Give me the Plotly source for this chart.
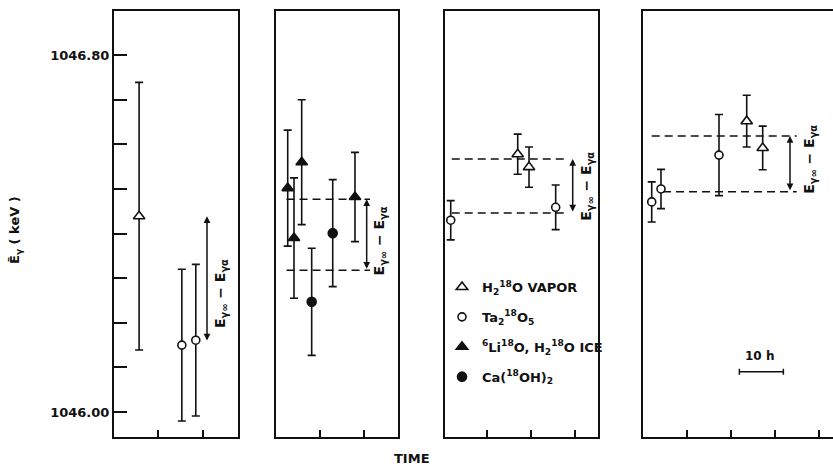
import plotly.graph_objects as go

# ---------------- data: time (h) and mean gamma energy (keV) ----------------
# Panel 1
p1_vapor_t = [5.8]
p1_vapor_e = [1046.439]
p1_vapor_err = [0.30]
p1_ta_t = [15.3, 18.4]
p1_ta_e = [1046.150, 1046.161]
p1_ta_err = [0.17, 0.17]
p1_levels = [1046.439, 1046.157]

# Panel 2
p2_ice_t = [2.66, 4.09, 5.84, 17.95]
p2_ice_e = [1046.502, 1046.390, 1046.560, 1046.482]
p2_ice_err = [0.13, 0.135, 0.14, 0.10]
p2_ca_t = [8.11, 12.89]
p2_ca_e = [1046.247, 1046.401]
p2_ca_err = [0.12, 0.12]
p2_levels = [1046.477, 1046.318]

# Panel 3
p3_vapor_t = [16.98, 19.55]
p3_vapor_e = [1046.578, 1046.549]
p3_vapor_err = [0.045, 0.045]
p3_ta_t = [1.75, 25.61]
p3_ta_e = [1046.430, 1046.459]
p3_ta_err = [0.044, 0.050]
p3_levels = [1046.567, 1046.446]

# Panel 4
p4_ta_t = [1.98, 4.09, 17.27]
p4_ta_e = [1046.471, 1046.500, 1046.576]
p4_ta_err = [0.045, 0.044, 0.091]
p4_vapor_t = [23.57, 27.2]
p4_vapor_e = [1046.652, 1046.592]
p4_vapor_err = [0.058, 0.049]
p4_levels = [1046.619, 1046.494]

legend_labels = [
    "H<sub>2</sub><sup>18</sup>O VAPOR",
    "Ta<sub>2</sub><sup>18</sup>O<sub>5</sub>",
    "<sup>6</sup>Li<sup>18</sup>O, H<sub>2</sub><sup>18</sup>O ICE",
    "Ca(<sup>18</sup>OH)<sub>2</sub>",
]
y_tick_vals = [round(1046.0 + 0.1 * i, 1) for i in range(9)]
y_tick_text = ["1046.00", "", "", "", "", "", "", "", "1046.80"]
x_tick_vals = [10, 20, 30, 40]
scale_bar_hours = 10
diff_label = "E<sub>γ∞</sub> − E<sub>γα</sub>"

# ---------------- styles ----------------
W, H = 833, 466
FONT = "DejaVu Sans"
BLACK = "#111111"
Y_RANGE = [1045.944, 1046.899]
Y_DOM = [1 - 437 / H, 1 - 11 / H]

panels = [
    dict(dom=[114 / W, 238 / W], rng=[0.22, 27.78]),
    dict(dom=[275.7 / W, 397.7 / W], rng=[-0.07, 27.66]),
    dict(dom=[445 / W, 598 / W], rng=[0.45, 35.23]),
    dict(dom=[643 / W, 1.0], rng=[0.0, 43.18]),
]

styles = {
    "vapor": dict(symbol="triangle-up", color="white", size=10, name=legend_labels[0], rank=1),
    "ta": dict(symbol="circle", color="white", size=8, name=legend_labels[1], rank=2),
    "ice": dict(symbol="triangle-up", color=BLACK, size=10, name=legend_labels[2], rank=3),
    "ca": dict(symbol="circle", color=BLACK, size=9, name=legend_labels[3], rank=4),
}

fig = go.Figure()
shown = set()


def add_series(kind, t, e, err, panel):
    s = styles[kind]
    ax = "" if panel == 1 else str(panel)
    fig.add_trace(go.Scatter(
        x=t, y=e, mode="markers",
        xaxis="x" + ax, yaxis="y" + ax,
        name=s["name"], legendgroup=kind, legendrank=s["rank"],
        showlegend=kind not in shown,
        marker=dict(symbol=s["symbol"], size=s["size"], color=s["color"],
                    line=dict(color=BLACK, width=1.6)),
        error_y=dict(type="data", array=err, visible=True, color=BLACK,
                     thickness=1.6, width=4),
        cliponaxis=False,
    ))
    shown.add(kind)


add_series("vapor", p1_vapor_t, p1_vapor_e, p1_vapor_err, 1)
add_series("ta", p1_ta_t, p1_ta_e, p1_ta_err, 1)
add_series("ice", p2_ice_t, p2_ice_e, p2_ice_err, 2)
add_series("ca", p2_ca_t, p2_ca_e, p2_ca_err, 2)
add_series("vapor", p3_vapor_t, p3_vapor_e, p3_vapor_err, 3)
add_series("ta", p3_ta_t, p3_ta_e, p3_ta_err, 3)
add_series("ta", p4_ta_t, p4_ta_e, p4_ta_err, 4)
add_series("vapor", p4_vapor_t, p4_vapor_e, p4_vapor_err, 4)

# 10 h scale bar in panel 4
fig.add_trace(go.Scatter(
    x=[26.9], y=[1046.090], mode="markers", xaxis="x4", yaxis="y4",
    showlegend=False, hoverinfo="skip",
    marker=dict(size=1, color="rgba(0,0,0,0)"),
    error_x=dict(type="data", array=[scale_bar_hours / 2], visible=True,
                 color=BLACK, thickness=1.5, width=3),
))

layout = dict(
    width=W, height=H, autosize=False,
    margin=dict(l=0, r=0, t=0, b=0, pad=0),
    paper_bgcolor="white", plot_bgcolor="white",
    font=dict(family=FONT, color=BLACK, size=13),
    showlegend=True,
    legend=dict(x=442 / W, y=1 - 272 / H, xanchor="left", yanchor="top",
                bgcolor="rgba(0,0,0,0)", borderwidth=0,
                traceorder="grouped", tracegroupgap=10,
                font=dict(family=FONT, size=13, color=BLACK, weight="bold"),
                itemwidth=30),
)

for i, p in enumerate(panels, start=1):
    k = "" if i == 1 else str(i)
    layout["xaxis" + k] = dict(
        domain=p["dom"], range=p["rng"], anchor="y" + k,
        showline=True, linewidth=2, linecolor=BLACK, mirror=True,
        ticks="inside", ticklen=7, tickwidth=1.5, tickcolor=BLACK,
        tickvals=x_tick_vals, showticklabels=False,
        showgrid=False, zeroline=False, fixedrange=True,
    )
    ydef = dict(
        domain=Y_DOM, range=Y_RANGE, anchor="x" + k,
        showline=True, linewidth=2, linecolor=BLACK, mirror=(i != 4),
        showgrid=False, zeroline=False, fixedrange=True,
    )
    if i == 1:
        ydef.update(ticks="inside", ticklen=13, tickwidth=1.5, tickcolor=BLACK,
                    tickvals=y_tick_vals, ticktext=y_tick_text,
                    tickfont=dict(family=FONT, size=13, color=BLACK, weight="bold"))
    else:
        ydef.update(ticks="", showticklabels=False)
    layout["yaxis" + k] = ydef

fig.update_layout(**layout)

# dashed level lines
dash_style = dict(color=BLACK, width=1.5, dash="8px,5px")
level_lines = [
    (2, p2_levels[0], 2.39, 21.36), (2, p2_levels[1], 2.39, 21.36),
    (3, p3_levels[0], 1.98, 28.41), (3, p3_levels[1], 1.98, 28.41),
    (4, p4_levels[0], 1.98, 34.93), (4, p4_levels[1], 4.55, 34.93),
]
for pan, lev, x0, x1 in level_lines:
    k = str(pan)
    fig.add_shape(type="line", xref="x" + k, yref="y" + k,
                  x0=x0, x1=x1, y0=lev, y1=lev, line=dash_style)

# double-headed difference arrows with labels
arrows = [
    (1, p1_levels, 20.89, 14, -15),
    (2, p2_levels, 20.61, 13, -6),
    (3, p3_levels, 29.48, 14, 0),
    (4, p4_levels, 33.41, 20, 4),
]
for pan, lev, xa, xs, ys in arrows:
    k = "" if pan == 1 else str(pan)
    fig.add_annotation(x=xa, y=lev[0], ax=xa, ay=lev[1],
                       xref="x" + k, yref="y" + k, axref="x" + k, ayref="y" + k,
                       showarrow=True, arrowhead=2, arrowside="end+start",
                       arrowsize=0.9, arrowwidth=1.5, arrowcolor=BLACK,
                       standoff=0, startstandoff=0, text="")
    fig.add_annotation(x=xa, y=(lev[0] + lev[1]) / 2, xref="x" + k, yref="y" + k,
                       text=diff_label, showarrow=False, textangle=-90,
                       xshift=xs, yshift=ys,
                       font=dict(family=FONT, size=14, color=BLACK, weight="bold"))

# scale bar label
fig.add_annotation(x=26.4, y=1046.125, xref="x4", yref="y4", text="10 h",
                   showarrow=False,
                   font=dict(family=FONT, size=12, color=BLACK, weight="bold"))

# y-axis title
fig.add_annotation(x=15 / W, y=1 - 230 / H, xref="paper", yref="paper",
                   xanchor="center", yanchor="middle",
                   text="E\u0304<sub>γ</sub> ( keV )", showarrow=False, textangle=-90,
                   font=dict(family=FONT, size=13, color=BLACK, weight="bold"))

# x-axis title
fig.add_annotation(x=412 / W, y=1 - 458 / H, xref="paper", yref="paper",
                   xanchor="center", yanchor="middle",
                   text="TIME", showarrow=False,
                   font=dict(family=FONT, size=13, color=BLACK, weight="bold"))

fig.write_html("out.html")
